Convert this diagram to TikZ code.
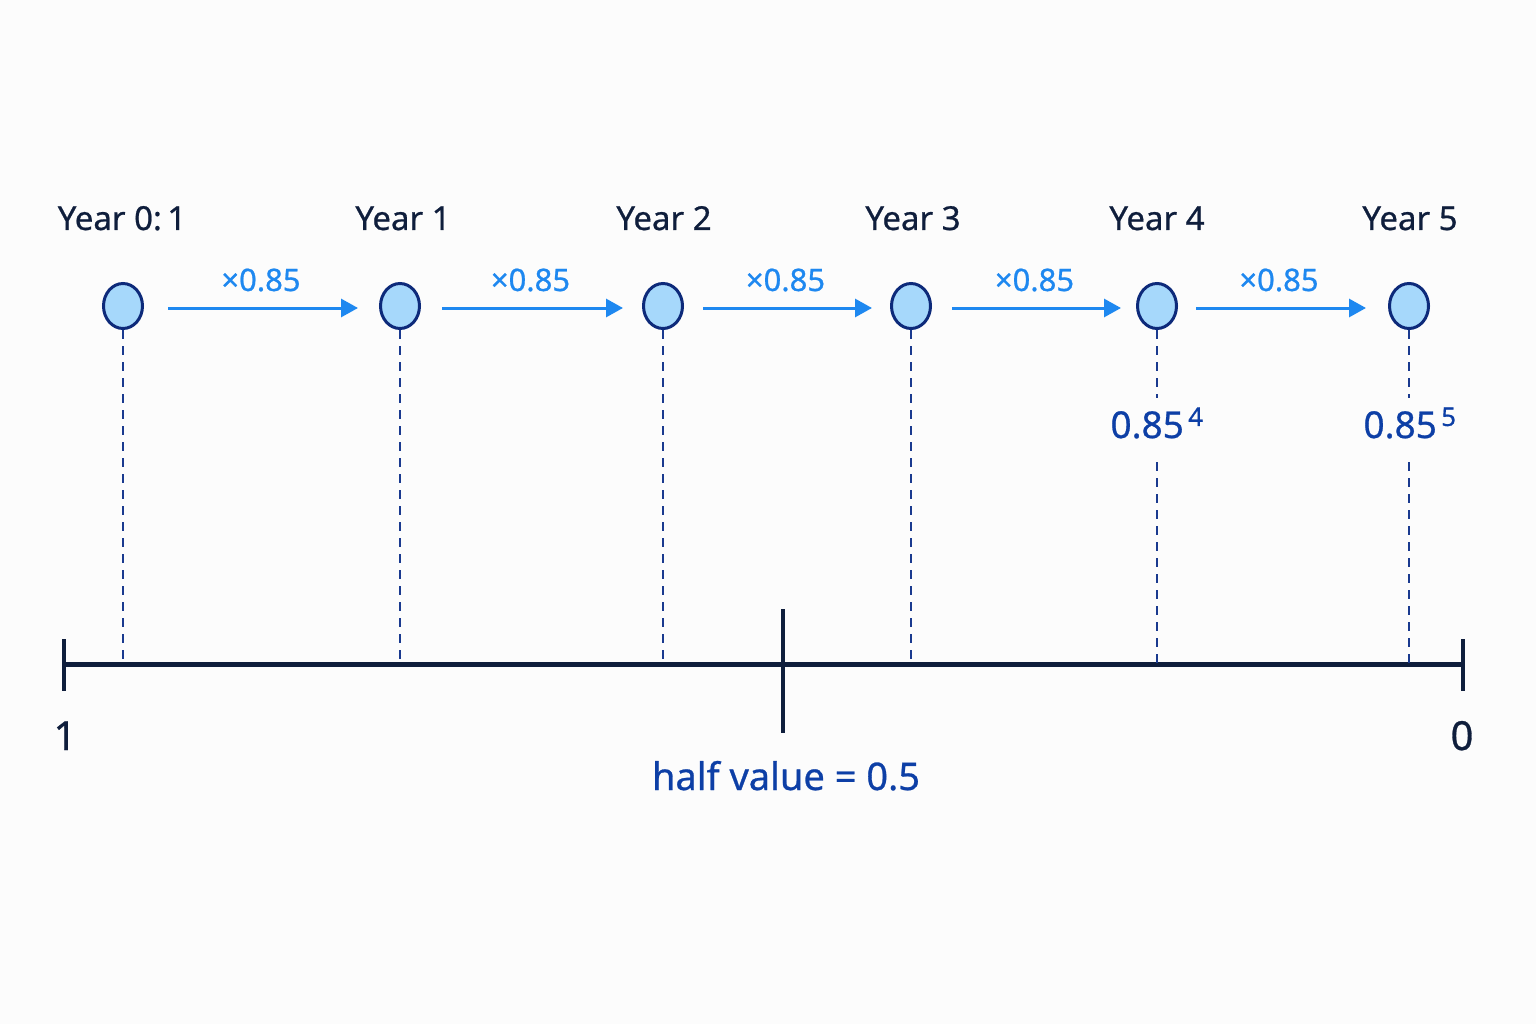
\documentclass[tikz,border=0pt]{standalone}
\usepackage{fontspec}
\setmainfont{Noto Sans}[FakeBold=0.7]
\usetikzlibrary{arrows.meta,shapes.geometric}
\definecolor{navy}{HTML}{0F1E3C}
\definecolor{ringblue}{HTML}{0D2A7A}
\definecolor{fillblue}{HTML}{A6D8FB}
\definecolor{arrowblue}{HTML}{1E88F0}
\definecolor{dashblue}{HTML}{1A3A8F}
\definecolor{valblue}{HTML}{0D3FA6}
\tikzset{
  yearpt/.style={ellipse,draw=ringblue,fill=fillblue,line width=3pt,minimum width=39pt,minimum height=45pt,inner sep=0pt},
  yearlbl/.style={text=navy,font=\fontsize{33}{38}\selectfont,anchor=base},
  factorlbl/.style={text=arrowblue,font=\fontsize{31}{34}\selectfont,anchor=base},
  steparrow/.style={draw=arrowblue,line width=3pt,-{Triangle[length=17pt,width=18pt]}},
  dropline/.style={draw=dashblue,line width=2.4pt,dash pattern=on 9pt off 7pt},
  axisline/.style={draw=navy,line width=5pt},
  ticklbl/.style={text=navy,font=\fontsize{40}{46}\selectfont,anchor=base},
  powlbl/.style={text=valblue,font=\fontsize{37}{40}\selectfont,anchor=base},
}
\begin{document}
\begin{tikzpicture}[x=1pt,y=-1pt]
\fill[white!98!gray] (0,0) rectangle (1536,1024);
\useasboundingbox (0,0) rectangle (1536,1024);
% year points
\foreach \i/\x in {0/123,1/400,2/663,3/911,4/1157,5/1409}{
  \node[yearpt] (p\i) at (\x,306) {};
  \coordinate (b\i) at (\x,664);
}
% labels
\node[yearlbl] (y0) at (122,230) {Year 0:\,1};
\node[yearlbl] (y1) at (403,230) {Year 1};
\node[yearlbl] (y2) at (664,230) {Year 2};
\node[yearlbl] (y3) at (913,230) {Year 3};
\node[yearlbl] (y4) at (1157,230) {Year 4};
\node[yearlbl] (y5) at (1410,230) {Year 5};
% arrows
\foreach \a/\b/\s/\e in {0/1/168/358,1/2/442/623,2/3/703/872,3/4/952/1121,4/5/1196/1366}{
  \coordinate (s\a) at (\s,308);
  \coordinate (e\a) at (\e,308);
  \draw[steparrow] (s\a) -- (e\a);
  \node[factorlbl] (f\a) at ({(\s+\e)/2-2},291) {×0.85};
}
% axis
\coordinate (axl) at (64,664);
\coordinate (axr) at (1463,664);
\coordinate (half) at (783,664);
\draw[axisline] (axl) -- (axr);
\draw[axisline,line width=4.5pt] (64,639) -- (64,691);
\draw[axisline,line width=4.5pt] (1463,639) -- (1463,691);
\draw[axisline,line width=4.5pt] (783,609) -- (783,733);
% power labels
\node[powlbl] (q4) at (1157,438) {0.85\raisebox{3pt}{\textsuperscript{\,4}}};
\node[powlbl] (q5) at (1410,438) {0.85\raisebox{3pt}{\textsuperscript{\,5}}};
% drop lines
\foreach \i in {0,1,2,3}{ \draw[dropline] (p\i.south) -- (b\i); }
\draw[dropline] (p4.south) -- (1157,398);
\draw[dropline] (1157,462) -- (b4);
\draw[dropline] (p5.south) -- (1409,398);
\draw[dropline] (1409,462) -- (b5);
% tick labels
\node[ticklbl] (one) at (65,750) {1};
\node[ticklbl] (zero) at (1462,750) {0};
\node[text=valblue,font=\fontsize{38}{44}\selectfont,anchor=base] (hv) at (786,790) {half value = 0.5};
\end{tikzpicture}
\end{document}
